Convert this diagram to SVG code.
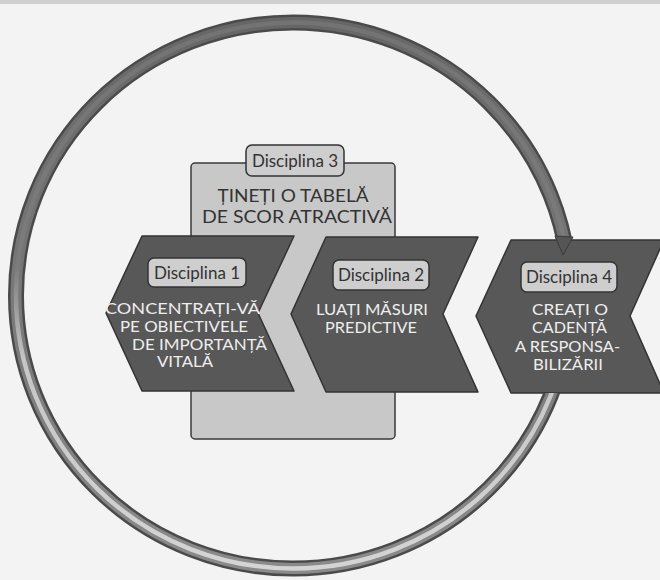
<svg xmlns="http://www.w3.org/2000/svg" width="660" height="580" viewBox="0 0 660 580">
  <defs>
    <style>
      .chev{fill:#585858;stroke:#333;stroke-width:1.5;stroke-linejoin:round}
      .box{fill:#c8c8c8;stroke:#3a3a3a;stroke-width:1.5}
      .lbl{fill:#cecece;stroke:#333;stroke-width:1.5}
      .lt{font-family:Lato,"Open Sans","DejaVu Sans",sans-serif;font-size:17px;fill:#333;text-anchor:middle}
      .ct{font-family:Lato,"Open Sans","DejaVu Sans",sans-serif;font-size:15px;fill:#eeeeee;text-anchor:middle}
      .bt{font-family:Lato,"Open Sans","DejaVu Sans",sans-serif;font-size:17.5px;fill:#333;text-anchor:middle}
      .ring{fill:none}
    </style>
    <linearGradient id="bodyG" gradientUnits="userSpaceOnUse" x1="0" y1="20" x2="0" y2="570">
      <stop offset="0" stop-color="#666"/>
      <stop offset="1" stop-color="#8a8a8a"/>
    </linearGradient>
    <linearGradient id="stripeG" gradientUnits="userSpaceOnUse" x1="0" y1="20" x2="0" y2="570">
      <stop offset="0" stop-color="#737373"/>
      <stop offset="0.45" stop-color="#7c7c7c"/>
      <stop offset="0.62" stop-color="#c6c6c6"/>
      <stop offset="1" stop-color="#d4d4d4"/>
    </linearGradient>
    <clipPath id="noD4">
      <path clip-rule="evenodd" d="M0 0H660V580H0Z M511 240 L664 240 L630 316 L664 393 L511 393 L476 316 Z"/>
    </clipPath>
  </defs>

  <rect x="0" y="0" width="660" height="580" fill="#f3f3f3"/>
  <rect x="0" y="0" width="660" height="4" fill="#cfcfcf"/>

  <g id="disciplina-3">
    <rect class="box" x="191" y="163" width="204" height="276" rx="4"/>
    <rect class="lbl" x="246" y="145" width="98" height="31" rx="6"/>
    <text class="lt" x="295" y="166.5">Disciplina 3</text>
    <text class="bt" x="293" y="202" textLength="151" lengthAdjust="spacingAndGlyphs">ȚINEȚI O TABELĂ</text>
    <text class="bt" x="297" y="223" textLength="190" lengthAdjust="spacingAndGlyphs">DE SCOR ATRACTIVĂ</text>
  </g>

  <g id="disciplina-1">
    <path class="chev" d="M142 236 L294 236 L258 313 L294 391 L142 391 L106 313 Z"/>
    <rect class="lbl" x="148" y="258" width="98" height="29" rx="6"/>
    <text class="lt" x="197" y="278.5">Disciplina 1</text>
    <text class="ct" x="182.5" y="314" textLength="155" lengthAdjust="spacingAndGlyphs">CONCENTRAȚI-VĂ</text>
    <text class="ct" x="184" y="332" textLength="128" lengthAdjust="spacingAndGlyphs">PE OBIECTIVELE</text>
    <text class="ct" x="199.5" y="349.5" textLength="135" lengthAdjust="spacingAndGlyphs">DE IMPORTANȚĂ</text>
    <text class="ct" x="185" y="367" textLength="56" lengthAdjust="spacingAndGlyphs">VITALĂ</text>
  </g>

  <g id="disciplina-2">
    <path class="chev" d="M326 237 L478 237 L443 314 L478 392 L326 392 L291 314 Z"/>
    <rect class="lbl" x="333" y="260" width="96" height="30" rx="6"/>
    <text class="lt" x="381" y="281">Disciplina 2</text>
    <text class="ct" x="372" y="315" textLength="112" lengthAdjust="spacingAndGlyphs">LUAȚI MĂSURI</text>
    <text class="ct" x="371" y="333" textLength="92" lengthAdjust="spacingAndGlyphs">PREDICTIVE</text>
  </g>

  <g id="disciplina-4">
    <path class="chev" d="M511 240 L664 240 L630 316 L664 393 L511 393 L476 316 Z"/>
    <rect class="lbl" x="521" y="262" width="96" height="30" rx="6"/>
    <text class="lt" x="569" y="283">Disciplina 4</text>
    <text class="ct" x="570" y="315" textLength="76" lengthAdjust="spacingAndGlyphs">CREAȚI O</text>
    <text class="ct" x="569.5" y="333" textLength="75" lengthAdjust="spacingAndGlyphs">CADENȚĂ</text>
    <text class="ct" x="567.5" y="352" textLength="105" lengthAdjust="spacingAndGlyphs">A RESPONSA-</text>
    <text class="ct" x="568" y="370" textLength="70" lengthAdjust="spacingAndGlyphs">BILIZĂRII</text>
  </g>

  <g id="connectors">
    <g clip-path="url(#noD4)">
      <ellipse class="ring" cx="293" cy="295.5" rx="277" ry="273" stroke="#4a4a4a" stroke-width="16"/>
      <ellipse class="ring" cx="293" cy="295.5" rx="277" ry="273" stroke="url(#bodyG)" stroke-width="11"/>
      <ellipse class="ring" cx="293" cy="295.5" rx="277" ry="273" stroke="url(#stripeG)" stroke-width="4.5"/>
    </g>
    <polygon points="555,236 573,237 563,255" fill="#555" stroke="#3a3a3a" stroke-width="1" stroke-linejoin="round"/>
  </g>
</svg>
